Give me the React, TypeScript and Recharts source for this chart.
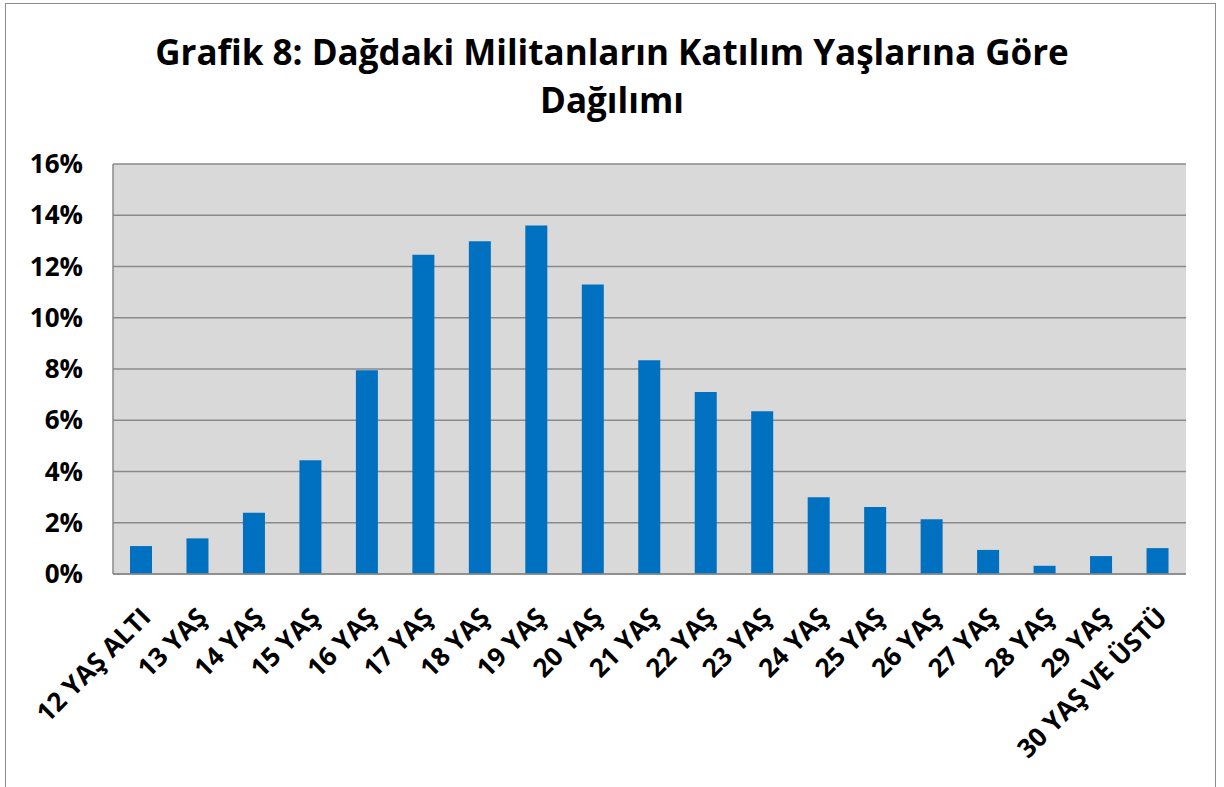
import React from 'react';
import { BarChart, Bar, XAxis, YAxis, CartesianGrid } from 'recharts';

const categories = [
  '12 YAŞ ALTI', '13 YAŞ', '14 YAŞ', '15 YAŞ', '16 YAŞ', '17 YAŞ', '18 YAŞ',
  '19 YAŞ', '20 YAŞ', '21 YAŞ', '22 YAŞ', '23 YAŞ', '24 YAŞ', '25 YAŞ',
  '26 YAŞ', '27 YAŞ', '28 YAŞ', '29 YAŞ', '30 YAŞ VE ÜSTÜ',
];
const shares = [
  1.09, 1.39, 2.39, 4.44, 7.95, 12.46, 12.99, 13.6, 11.3, 8.34, 7.1, 6.35,
  3.0, 2.61, 2.14, 0.94, 0.32, 0.7, 1.01,
];
const yTicks = [0, 2, 4, 6, 8, 10, 12, 14, 16];

const data = categories.map((name, i) => ({ name, value: shares[i] }));

const FONT = '"Open Sans", sans-serif';

const AgeTick = (props: any) => {
  const { x, y, payload } = props;
  return (
    <g transform={`translate(${x + 11},${y + 37}) rotate(-45)`}>
      <text textAnchor="end" fill="#000" fontFamily={FONT} fontWeight={700} fontSize={26}>
        {payload.value}
      </text>
    </g>
  );
};

export default function App() {
  return (
    <div style={{ position: 'absolute', left: 0, top: 0, width: 1224, height: 787, overflow: 'hidden', background: '#fff' }}>
      <div
        style={{
          position: 'absolute', left: 5, top: 3, width: 1209, height: 820,
          border: '1.5px solid #8c8c8c',
        }}
      />
      <div
        style={{
          position: 'absolute', left: 0, top: 28, width: 1224, textAlign: 'center',
          fontFamily: FONT, fontWeight: 700, fontSize: 35, lineHeight: '48px', color: '#000',
        }}
      >
        Grafik 8: Dağdaki Militanların Katılım Yaşlarına Göre
        <br />
        Dağılımı
      </div>
      <div style={{ position: 'absolute', left: 0, top: 0 }}>
        <BarChart
          width={1224}
          height={787}
          data={data}
          margin={{ top: 164, right: 38, left: 0, bottom: 33 }}
          barSize={22}
        >
          <CartesianGrid vertical={false} fill="#d9d9d9" stroke="#8a8a8a" strokeWidth={1.5} />
          <XAxis
            dataKey="name"
            interval={0}
            height={180}
            tickLine={false}
            axisLine={{ stroke: '#8a8a8a', strokeWidth: 1.5 }}
            tick={<AgeTick />}
          />
          <YAxis
            width={113}
            domain={[0, 16]}
            ticks={yTicks}
            tickFormatter={(v: number) => `${v}%`}
            tickLine={false}
            tickSize={6}
            tickMargin={24}
            axisLine={{ stroke: '#8a8a8a', strokeWidth: 1.5 }}
            tick={{ fill: '#000', fontFamily: FONT, fontWeight: 700, fontSize: 26 }}
          />
          <Bar dataKey="value" fill="#0070c0" isAnimationActive={false} />
        </BarChart>
      </div>
    </div>
  );
}
